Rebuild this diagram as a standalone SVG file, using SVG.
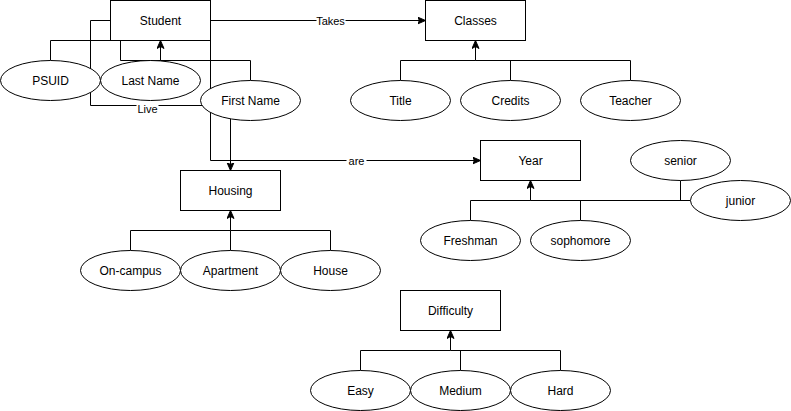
<svg xmlns="http://www.w3.org/2000/svg" width="791" height="411" viewBox="0 0 791 411">
<defs>
<marker id="arr" markerUnits="userSpaceOnUse" markerWidth="10" markerHeight="10" refX="8" refY="4" orient="auto">
<path d="M0,0.5 L8,4 L0,7.5 L2,4 Z" fill="#000" stroke="#000" stroke-width="1"/>
</marker>
<style>
.e{fill:none;stroke:#000;stroke-width:1}
.n rect,.n ellipse{fill:#fff;stroke:#000;stroke-width:1}
text{font-family:"Liberation Sans",Arial,Helvetica,sans-serif;font-size:12px;fill:#000;text-anchor:middle;dominant-baseline:central}
.lb{font-size:11px}
</style>
</defs>
<rect width="791" height="411" fill="#fff"/>
<g transform="translate(0.5,0.5)">
<g id="connectors">
<path class="e" d="M210,20 L425,20" marker-end="url(#arr)"/>
<rect x="316" y="13" width="29" height="14" fill="#fff"/>
<text class="lb" x="330" y="20">Takes</text>
<path class="e" d="M400,80 L400,60 L475,60 L475,40" marker-end="url(#arr)"/>
<path class="e" d="M510,80 L510,60 L475,60"/>
<path class="e" d="M630,80 L630,60 L475,60"/>
<path class="e" d="M50,60 L50,40 L110,40"/>
<path class="e" d="M250,80 L250,60 L160,60 L160,40" marker-end="url(#arr)"/>
<path class="e" d="M120,40 L120,60 L160,60"/>
<path class="e" d="M110,20 L90,20 L90,105 L202,105"/>
<rect x="136" y="101" width="22" height="14" fill="#fff"/>
<text class="lb" x="147" y="108">Live</text>
<path class="e" d="M210,40 L210,160 L480,160" marker-end="url(#arr)"/>
<rect x="346" y="153" width="20" height="14" fill="#fff"/>
<text class="lb" x="356" y="160">are</text>
<path class="e" d="M230,118 L230,170" marker-end="url(#arr)"/>
<path class="e" d="M130,250 L130,230 L230,230 L230,210" marker-end="url(#arr)"/>
<path class="e" d="M230,250 L230,230"/>
<path class="e" d="M330,250 L330,230 L230,230"/>
<path class="e" d="M470,220 L470,200 L530,200 L530,180" marker-end="url(#arr)"/>
<path class="e" d="M580,220 L580,200 L530,200"/>
<path class="e" d="M680,180 L680,200"/>
<path class="e" d="M690,200 L530,200"/>
<path class="e" d="M360,370 L360,350 L450,350 L450,330" marker-end="url(#arr)"/>
<path class="e" d="M460,370 L460,350"/>
<path class="e" d="M560,370 L560,350 L450,350"/>
</g>
<g id="student" class="n"><rect x="110" y="0" width="100" height="40"/><text x="160" y="20">Student</text></g>
<g id="classes" class="n"><rect x="425" y="0" width="100" height="40"/><text x="475" y="20">Classes</text></g>
<g id="title" class="n"><ellipse cx="400" cy="100" rx="50" ry="20"/><text x="400" y="100">Title</text></g>
<g id="credits" class="n"><ellipse cx="510" cy="100" rx="50" ry="20"/><text x="510" y="100">Credits</text></g>
<g id="teacher" class="n"><ellipse cx="630" cy="100" rx="50" ry="20"/><text x="630" y="100">Teacher</text></g>
<g id="psuid" class="n"><ellipse cx="50" cy="80" rx="50" ry="20"/><text x="50" y="80">PSUID</text></g>
<g id="lastname" class="n"><ellipse cx="150" cy="80" rx="50" ry="20"/><text x="150" y="80">Last Name</text></g>
<g id="firstname" class="n"><ellipse cx="250" cy="100" rx="50" ry="20"/><text x="250" y="100">First Name</text></g>
<g id="housing" class="n"><rect x="180" y="170" width="100" height="40"/><text x="230" y="190">Housing</text></g>
<g id="oncampus" class="n"><ellipse cx="130" cy="270" rx="50" ry="20"/><text x="130" y="270">On-campus</text></g>
<g id="apartment" class="n"><ellipse cx="230" cy="270" rx="50" ry="20"/><text x="230" y="270">Apartment</text></g>
<g id="house" class="n"><ellipse cx="330" cy="270" rx="50" ry="20"/><text x="330" y="270">House</text></g>
<g id="year" class="n"><rect x="480" y="140" width="100" height="40"/><text x="530" y="160">Year</text></g>
<g id="senior" class="n"><ellipse cx="680" cy="160" rx="50" ry="20"/><text x="680" y="160">senior</text></g>
<g id="junior" class="n"><ellipse cx="740" cy="200" rx="50" ry="20"/><text x="740" y="200">junior</text></g>
<g id="freshman" class="n"><ellipse cx="470" cy="240" rx="50" ry="20"/><text x="470" y="240">Freshman</text></g>
<g id="sophomore" class="n"><ellipse cx="580" cy="240" rx="50" ry="20"/><text x="580" y="240">sophomore</text></g>
<g id="difficulty" class="n"><rect x="400" y="290" width="100" height="40"/><text x="450" y="310">Difficulty</text></g>
<g id="easy" class="n"><ellipse cx="360" cy="390" rx="50" ry="20"/><text x="360" y="390">Easy</text></g>
<g id="medium" class="n"><ellipse cx="460" cy="390" rx="50" ry="20"/><text x="460" y="390">Medium</text></g>
<g id="hard" class="n"><ellipse cx="560" cy="390" rx="50" ry="20"/><text x="560" y="390">Hard</text></g>
</g>
</svg>
